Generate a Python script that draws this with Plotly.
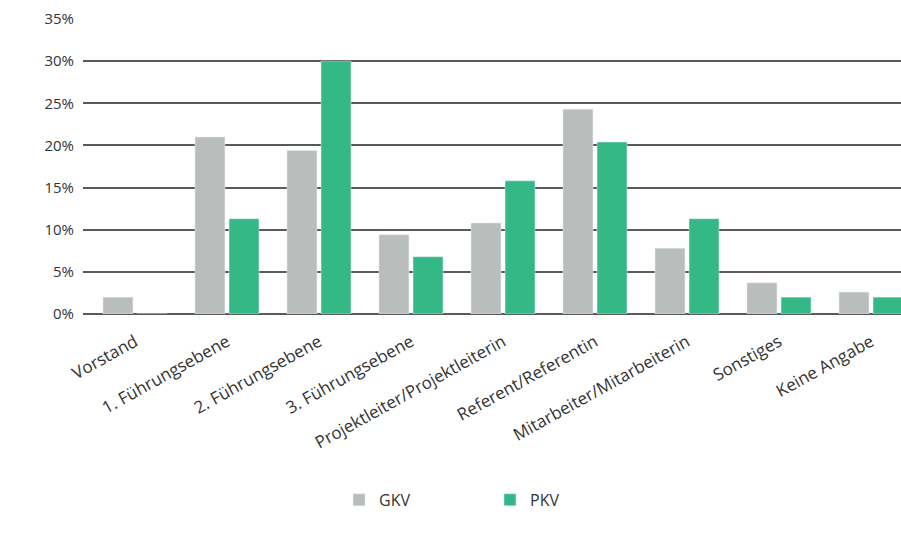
import plotly.graph_objects as go

# Position levels (x categories)
categories = [
    "Vorstand",
    "1. Führungsebene",
    "2. Führungsebene",
    "3. Führungsebene",
    "Projektleiter/Projektleiterin",
    "Referent/Referentin",
    "Mitarbeiter/Mitarbeiterin",
    "Sonstiges",
    "Keine Angabe",
]

# Share of respondents per level, in percent
gkv_values = [2.0, 21.0, 19.4, 9.4, 10.8, 24.3, 7.8, 3.7, 2.6]
pkv_values = [0.0, 11.3, 30.0, 6.8, 15.8, 20.4, 11.3, 2.0, 2.0]

y_ticks = [0, 5, 10, 15, 20, 25, 30, 35]
y_tick_labels = [f"{v}%" for v in y_ticks]

GRAY = "#b9bdbc"
GREEN = "#33b886"
FONT = "Open Sans"
TEXT = "#333333"

fig = go.Figure()
fig.add_trace(go.Bar(name="GKV", x=categories, y=gkv_values, marker_color=GRAY))
fig.add_trace(go.Bar(name="PKV", x=categories, y=pkv_values, marker_color=GREEN))

fig.update_layout(
    width=901,
    height=533,
    margin=dict(l=83, r=0, t=19, b=219),
    paper_bgcolor="white",
    plot_bgcolor="white",
    barmode="group",
    bargap=0.26,
    bargroupgap=0.12,
    font=dict(family=FONT, size=15, color=TEXT),
    showlegend=True,
    legend=dict(
        orientation="h",
        x=(339 - 83) / 818,
        xanchor="left",
        y=-0.63,
        yanchor="middle",
        font=dict(family=FONT, size=16, color=TEXT),
        entrywidth=106,
        itemwidth=30,
        traceorder="normal",
    ),
    xaxis=dict(
        range=[-0.565, 8.326],
        tickangle=-29,
        showgrid=False,
        showline=False,
        ticks="",
        ticklabelstandoff=14,
        tickfont=dict(family=FONT, size=17, color=TEXT),
    ),
    yaxis=dict(
        range=[0, 35],
        tickvals=y_ticks,
        ticktext=y_tick_labels,
        showgrid=True,
        gridcolor="#5a5a5a",
        gridwidth=1.5,
        zeroline=True,
        zerolinecolor="#5a5a5a",
        zerolinewidth=1.5,
        ticks="",
        ticklabelstandoff=8,
        tickfont=dict(family=FONT, size=15, color=TEXT),
    ),
)

fig.write_html("out.html")
